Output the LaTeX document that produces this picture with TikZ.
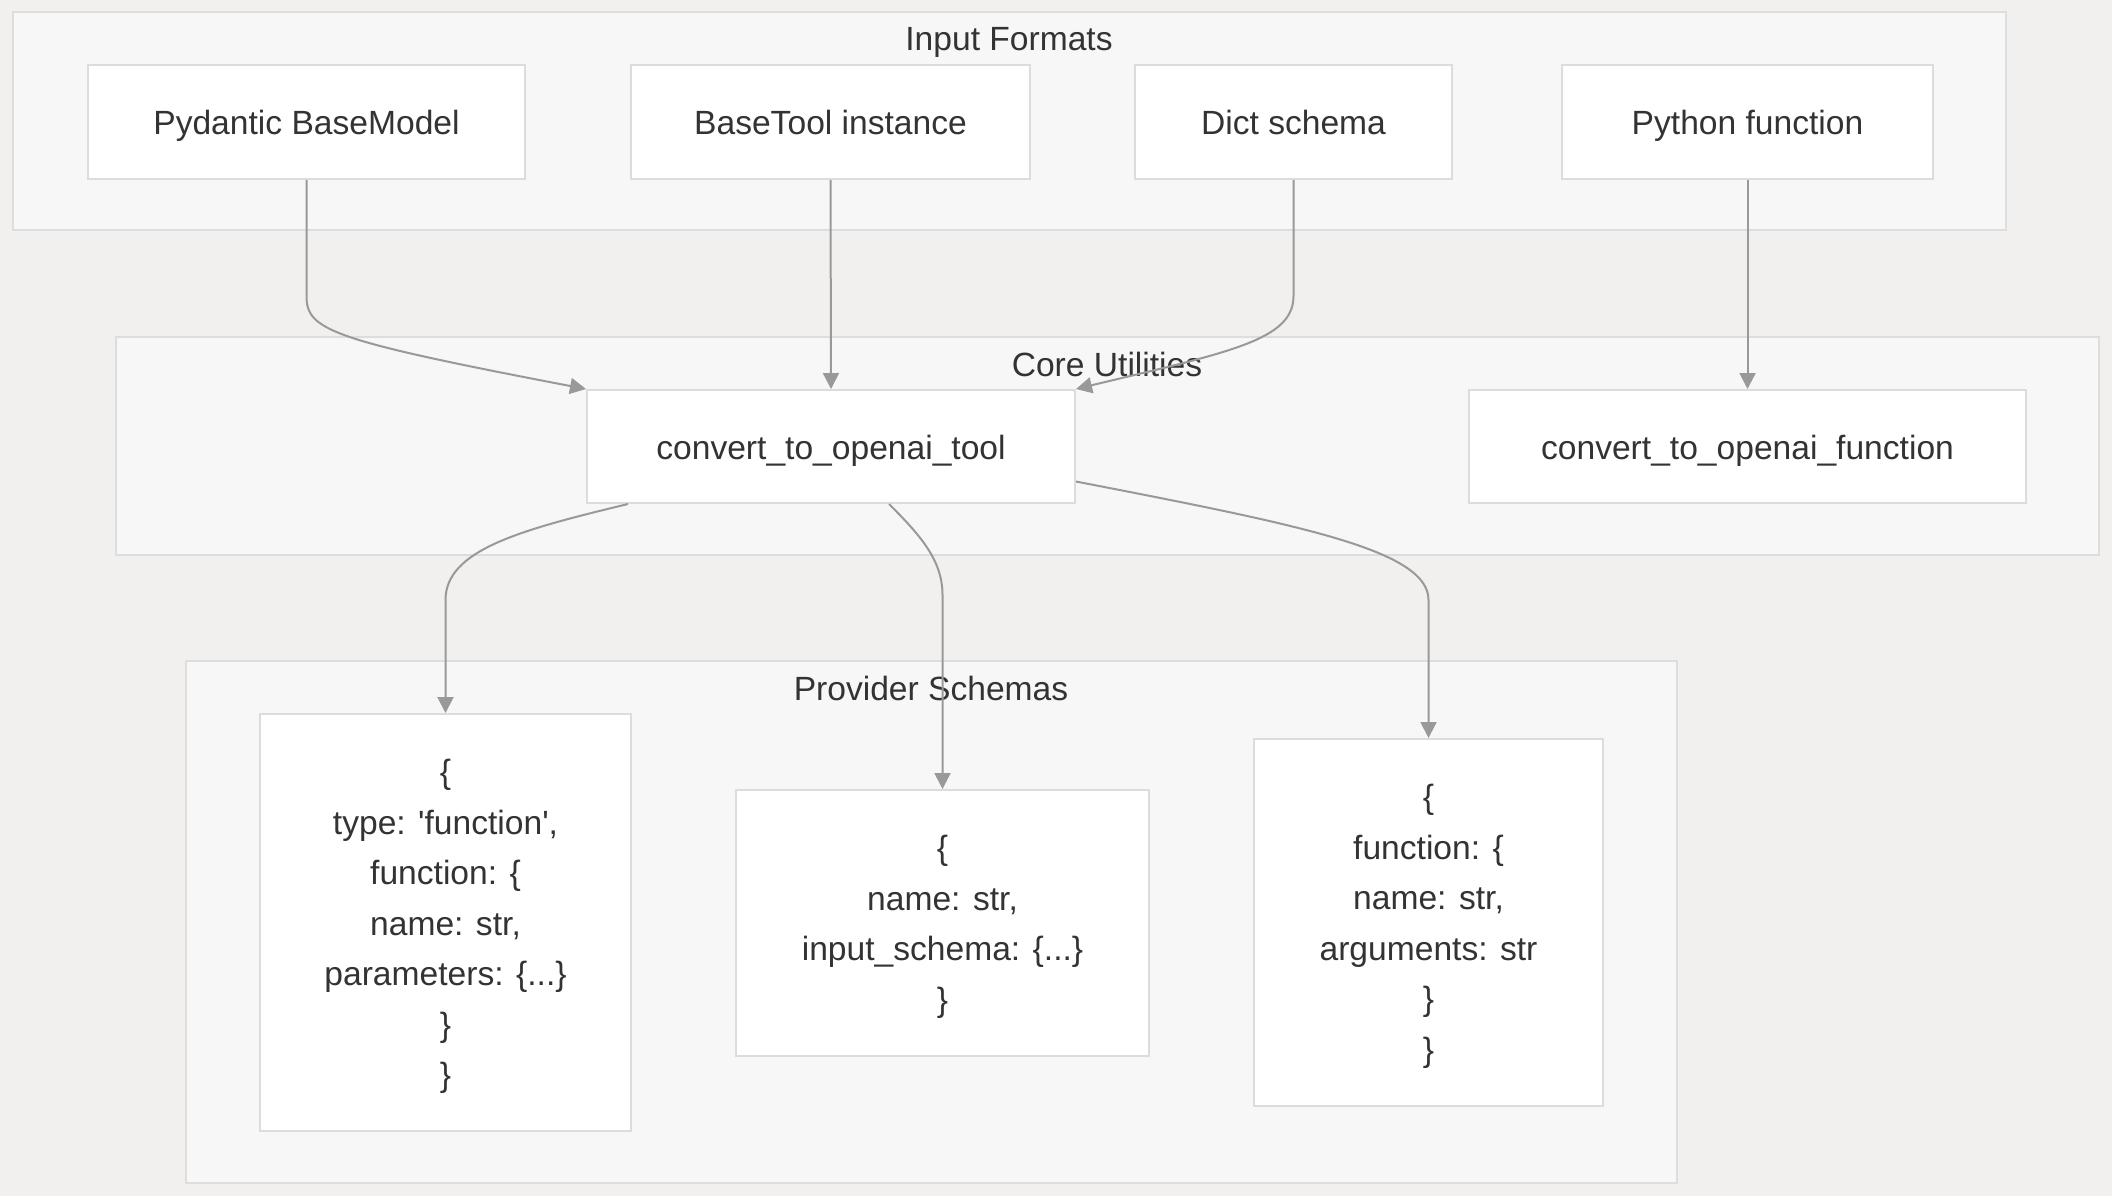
\documentclass[tikz,border=0pt]{standalone}
\usepackage{fontspec}
\setmainfont{Liberation Sans}
\usetikzlibrary{arrows.meta, positioning, calc}
\definecolor{Canvas}{HTML}{F1F0EE}
\definecolor{GroupFill}{HTML}{F7F7F7}
\definecolor{GroupEdge}{HTML}{DDDDDD}
\definecolor{BoxEdge}{HTML}{DCDCDC}
\definecolor{Ink}{HTML}{333333}
\definecolor{Wire}{HTML}{999999}

\tikzset{
  group/.style={draw=GroupEdge, fill=GroupFill, line width=1pt},
  grouptitle/.style={font=\fontsize{16.8}{25}\selectfont, text=Ink, text height=16pt, text depth=3.5pt},
  box/.style={draw=BoxEdge, fill=white, line width=1pt, text=Ink, align=center,
    font=\fontsize{16.8}{25.25}\selectfont, inner sep=0pt, text depth=3.5pt},
  onerow/.style={box, text height=16pt},
  manyrows/.style={box, text height=#1},
  link/.style={draw=Wire, line width=1pt, -{Triangle[length=8pt, width=8pt]}}
}

\begin{document}
\begin{tikzpicture}[x=0.5pt, y=-0.5pt]
  \useasboundingbox[fill=Canvas] (0,0) rectangle (2112,1196);

  % Input Formats
  \draw[group] (13,12) rectangle (2006,230);
  \node[grouptitle] (inTitle) at (1009,38) {Input Formats};
  \node[onerow, minimum width=218.5pt, minimum height=57pt] (pyd) at (306.5,122) {Pydantic BaseModel};
  \node[onerow, minimum width=199.5pt, minimum height=57pt] (btool) at (830.5,122) {BaseTool instance};
  \node[onerow, minimum width=158.5pt, minimum height=57pt] (dict) at (1293.5,122) {Dict schema};
  \node[onerow, minimum width=185.5pt, minimum height=57pt] (pyfn) at (1747.5,122) {Python function};

  % Core Utilities
  \draw[group] (116,337) rectangle (2099,555);
  \node[grouptitle] (coreTitle) at (1107,364) {Core Utilities};
  \node[onerow, minimum width=244pt, minimum height=56.5pt] (tool) at (831,446.5) {convert\_to\_openai\_tool};
  \node[onerow, minimum width=278.5pt, minimum height=56.5pt] (func) at (1747.5,446.5) {convert\_to\_openai\_function};

  % Provider Schemas
  \draw[group] (186,661) rectangle (1677,1183);
  \node[grouptitle] (provTitle) at (931,688) {Provider Schemas};
  \node[manyrows=167.5pt, minimum width=185.5pt, minimum height=208.5pt] (openai) at (445.5,922.5)
    {\{\\type: \textquotesingle function\textquotesingle,\\function: \{\\name: str,\\parameters: \{...\}\\\}\\\}};
  \node[manyrows=91.75pt, minimum width=206.5pt, minimum height=133pt] (anthropic) at (942.5,923)
    {\{\\name: str,\\input\_schema: \{...\}\\\}};
  \node[manyrows=142.25pt, minimum width=174.5pt, minimum height=183.5pt] (call) at (1428.5,922.5)
    {\{\\function: \{\\name: str,\\arguments: str\\\}\\\}};

  % connectors
  \draw[link] (pyd.south) -- (306.5,296) .. controls (306.5,330) and (330,340) .. (tool.north west);
  \draw[link] (btool.south) -- (tool.north);
  \draw[link] (dict.south) -- (1293.5,296) .. controls (1293.5,340) and (1230,352) .. (tool.north east);
  \draw[link] (pyfn.south) -- (func.north);
  \draw[link] ([xshift=21pt]tool.south west) .. controls (520,530) and (445.5,550) .. (445.5,600) -- (openai.north);
  \draw[link] ([xshift=29pt]tool.south) .. controls (920,535) and (942.5,560) .. (942.5,595) -- (anthropic.north);
  \draw[link] ([yshift=-17.5pt]tool.east) .. controls (1300,525) and (1428.5,550) .. (1428.5,600) -- (call.north);
\end{tikzpicture}
\end{document}
